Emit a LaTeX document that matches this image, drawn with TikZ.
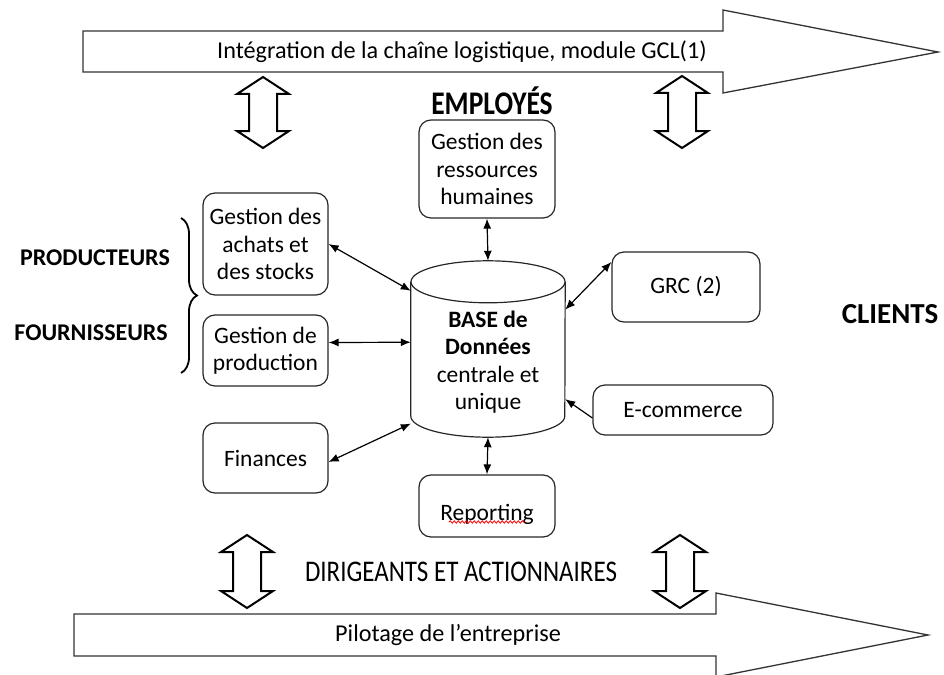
\documentclass[tikz,border=0pt]{standalone}
\usepackage{fontspec}
\setmainfont{Carlito}
\usepackage{tikz}
\usetikzlibrary{shapes.geometric,arrows.meta,decorations.pathreplacing,decorations.pathmorphing,positioning}

% fleche creuse verticale a deux pointes : x, y haut, y bas
\newcommand{\dfleche}[3]{%
  \draw[vfleche] (#1,#2) -- (#1+26,#2+17) -- (#1+14,#2+17) -- (#1+14,#3-17) -- (#1+26,#3-17)
    -- (#1,#3) -- (#1-26,#3-17) -- (#1-14,#3-17) -- (#1-14,#2+17) -- (#1-26,#2+17) -- cycle;}
% texte abaisse sans changer la taille de la boite
\newcommand{\bas}[2]{\raisebox{-#1}[\height][\depth]{#2}}

\begin{document}
\begin{tikzpicture}[x=1pt,y=-1pt]
	\tikzstyle{every node} = [font=\fontsize{23.5}{27.5}\selectfont, align=center, inner sep=0pt]
	\tikzstyle{module} = [draw=black!85, line width=1.2pt, rounded corners=12pt]
	\tikzstyle{acteur} = [font=\fontsize{24}{28}\selectfont\bfseries]
	\tikzstyle{lien} = [line width=1.2pt, {Latex[length=10pt,width=8pt]}-{Latex[length=10pt,width=8pt]}]
	\tikzstyle{grosse} = [draw=black!80, line width=1.3pt, fill=white]
	\tikzstyle{vfleche} = [draw=black, line width=2pt, fill=white, line join=miter]
\useasboundingbox (0,0) rectangle (944,674);
% grandes fleches
\draw[grosse] (83,31) -- (723,31) -- (723,10) -- (938,52) -- (723,93) -- (723,72) -- (83,72) -- cycle;
\draw[grosse] (74,614) -- (716,614) -- (716,593) -- (928,635) -- (716,677) -- (716,656) -- (74,656) -- cycle;
\node[font=\fontsize{24.2}{28}\selectfont] (gcl) at (462,52) {Intégration de la chaîne logistique, module GCL(1)};
\node[font=\fontsize{24.2}{28}\selectfont] (pilotage) at (448,635) {Pilotage de l’entreprise};
\dfleche{263}{77}{148}
\dfleche{682}{76}{148}
\dfleche{247}{535}{608}
\dfleche{680}{535}{608}
% acteurs
\node[acteur, font=\fontsize{27.5}{30}\selectfont\bfseries] (employes) at (492,101) {\scalebox{1}[1.2]{EMPLOYÉS}};
\node[acteur, font=\fontsize{25}{30}\selectfont] (dirigeants) at (461,572) {\scalebox{1}[1.2]{DIRIGEANTS ET ACTIONNAIRES}};
\node[acteur] (producteurs) at (95,258) {PRODUCTEURS};
\node[acteur] (fournisseurs) at (91,333) {FOURNISSEURS};
\node[acteur, font=\fontsize{29}{32}\selectfont\bfseries] (clients) at (890,314) {CLIENTS};
\draw[line width=1.8pt, decorate, decoration={brace, amplitude=16pt}] (181,218) -- (181,373);
% modules
\node[module, minimum width=136pt, minimum height=98pt] (grh) at (487,169) {Gestion des\\ressources\\humaines};
\node[module, minimum width=125pt, minimum height=102pt] (achats) at (265.5,244) {Gestion des\\achats et\\des stocks};
\node[module, minimum width=125pt, minimum height=71pt] (prod) at (265.5,350.5) {Gestion de\\production};
\node[module, minimum width=125pt, minimum height=70pt] (fin) at (265.5,458) {Finances};
\node[module, minimum width=148pt, minimum height=70pt] (grc) at (686,287) {GRC (2)};
\node[module, minimum width=180pt, minimum height=50pt] (ecom) at (683,410) {E-commerce};
\node[module, minimum width=136pt, minimum height=62pt] (rep) at (487,506) {\bas{8pt}{Reporting}};
\draw[red, line width=0.8pt, decorate, decoration={snake, amplitude=1.2pt, segment length=4pt}]
	([xshift=-38pt,yshift=-16pt]rep.center) -- ([xshift=38pt,yshift=-16pt]rep.center);
% base de donnees : cylindre
\node[minimum width=154pt, minimum height=176pt] (bd) at (488,349)
	{\bas{14pt}{\begin{tabular}{@{}c@{}}\textbf{BASE de}\\\textbf{Données}\\centrale et\\unique\end{tabular}}};
\draw[draw=black!85, line width=1.2pt] ([yshift=-21pt]bd.north) ellipse (77pt and 21pt);
\draw[draw=black!85, line width=1.2pt] ([yshift=-21pt]bd.north west) -- ([yshift=21pt]bd.south west)
	arc[start angle=180, end angle=360, x radius=77pt, y radius=21pt] -- ([yshift=-21pt]bd.north east);
% liaisons
	\path[draw, lien] (achats.east) -- (bd.143.7);
	\path[draw, lien] ([yshift=8pt]prod.east) -- (bd.175);
	\path[draw, lien] ([yshift=-4pt]fin.east) -- (bd.224.6);
	\path[draw, lien] (grh.south) -- (bd.north);
	\path[draw, lien] (rep.north) -- (bd.south);
	\path[draw, lien] ([yshift=25pt]grc.west) -- (bd.27.9);
	\path[draw, line width=1.2pt, -{Latex[length=10pt,width=8pt]}] ([yshift=-8pt]ecom.west) -- (bd.-33.3);
\end{tikzpicture}
\end{document}
